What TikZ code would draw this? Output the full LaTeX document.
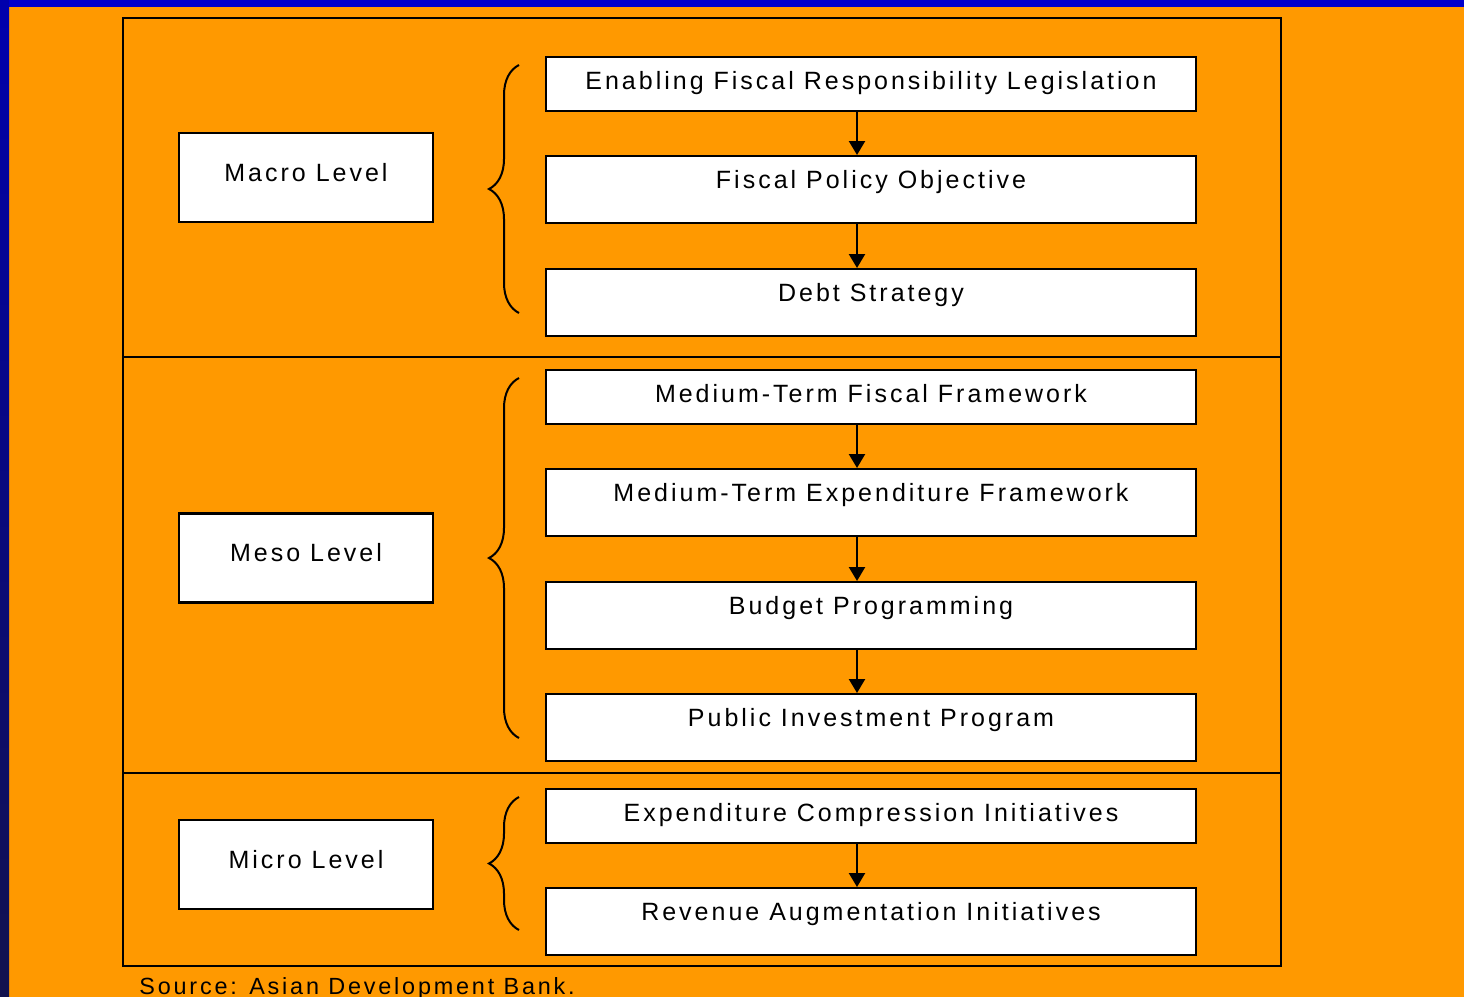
\documentclass[tikz,border=0pt]{standalone}
\usepackage{fontspec}
\setmainfont{Liberation Sans}[LetterSpace=12]
\usepackage{xcolor}
\usetikzlibrary{arrows.meta,decorations.pathreplacing}

\definecolor{slide}{HTML}{FF9900}
\definecolor{edgeblue}{HTML}{0000CC}
\definecolor{navy}{HTML}{12124E}

\tikzset{
  level/.style={draw=black,fill=white,line width=1.2pt,inner sep=0pt,
    minimum width=127pt,minimum height=44.5pt,text height=24pt,text depth=20.5pt},
  stage/.style={draw=black,fill=white,line width=1.2pt,inner sep=0pt,
    minimum width=325pt,minimum height=27pt,text height=16pt,text depth=11pt,anchor=north},
  tall/.style={stage,minimum height=33.5pt,text depth=17.5pt},
  flow/.style={line width=1.2pt,-{Triangle[width=8pt,length=7pt]}},
  curly/.style={line width=1pt,decorate,decoration={brace,amplitude=15pt}}
}

\begin{document}
\begin{tikzpicture}[x=0.5pt,y=-0.5pt,font=\fontsize{12.5}{15}\selectfont]
\useasboundingbox (0,0) rectangle (1464,997);
% slide background
\fill[slide] (0,0) rectangle (1464,997);
\fill[edgeblue] (0,0) rectangle (1464,7);
\shade[top color=edgeblue!85!black,bottom color=navy] (0,0) rectangle (9,997);

% frame and level dividers
\draw[line width=1pt] (123,18) rectangle (1281,966);
\draw[line width=1pt] (123,357) -- (1281,357)
  (123,773) -- (1281,773);

% level boxes
\node[level] (macro) at (306,177.5) {Macro Level};
\node[level] (meso) at (306,558) {Meso Level};
\node[level] (micro) at (306,864.5) {Micro Level};

% macro stages
\node[stage] (frl) at (871,56) {Enabling Fiscal Responsibility Legislation};
\node[tall] (fpo) at (871,155) {Fiscal Policy Objective};
\node[tall] (debt) at (871,268) {Debt Strategy};

% meso stages
\node[stage] (mtff) at (871,369) {Medium-Term Fiscal Framework};
\node[tall] (mtef) at (871,468) {Medium-Term Expenditure Framework};
\node[tall] (budget) at (871,581) {Budget Programming};
\node[tall] (pip) at (871,693) {Public Investment Program};

% micro stages
\node[stage] (eci) at (871,788) {Expenditure Compression Initiatives};
\node[tall] (rai) at (871,887) {Revenue Augmentation Initiatives};

\foreach \a/\b in {frl/fpo,fpo/debt,mtff/mtef,mtef/budget,budget/pip,eci/rai}
  \draw[flow] ([xshift=-7pt]\a.south) -- ([xshift=-7pt]\b.north);

% braces
\draw[curly] (519,313) -- (519,65);
\draw[curly] (519,738) -- (519,378);
\draw[curly] (519,930) -- (519,797);

\node[anchor=base west,inner sep=0pt,font=\fontsize{11.7}{14}\selectfont] (src) at (139,994) {Source: Asian Development Bank.};
\end{tikzpicture}
\end{document}
